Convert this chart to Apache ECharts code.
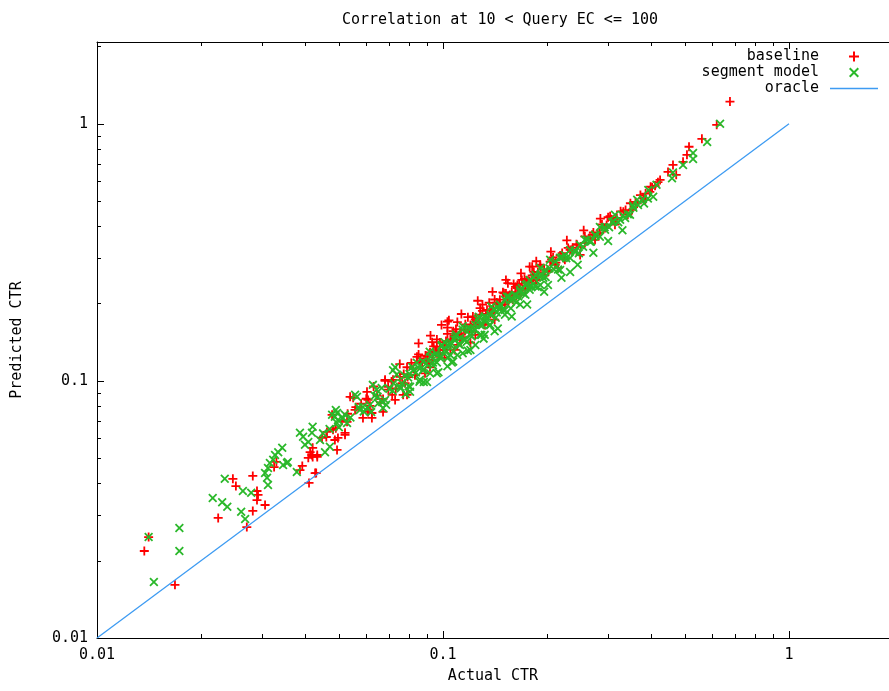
<!DOCTYPE html>
<html>
<head>
<meta charset="utf-8">
<title>Correlation at 10 < Query EC <= 100</title>
<script src="https://cdn.jsdelivr.net/npm/echarts@6/dist/echarts.min.js"></script>
<style>
  html, body { margin: 0; padding: 0; background: #fff; }
  #main { width: 889px; height: 691px; }
</style>
</head>
<body>
<div id="main"></div>
<script>
// values: [actual CTR, predicted CTR]
var baselinePoints = [
  [0.0137,0.0218],[0.0141,0.0247],[0.0168,0.0161],[0.0224,0.0293],[0.0247,0.0416],[0.0252,0.0390],[0.0282,0.0427],[0.0271,0.0270],
  [0.0282,0.0312],[0.0290,0.0373],[0.0292,0.0360],[0.0290,0.0344],[0.0306,0.0329],[0.0410,0.0401],[0.0430,0.0438],
  [0.0330,0.0484],[0.0325,0.0462],[0.0392,0.0467],[0.0386,0.0450],[0.0418,0.0515],[0.0420,0.0549],[0.0433,0.0515],[0.0413,0.0528],
  [0.0420,0.0506],[0.0408,0.0502],[0.0433,0.0506],[0.0427,0.0438],[0.0447,0.0600],[0.0462,0.0633],[0.0481,0.0645],[0.0487,0.0589],
  [0.0497,0.0600],[0.0494,0.0539],[0.0521,0.0628],[0.0478,0.0738],[0.0528,0.0693],[0.0521,0.0617],[0.0539,0.0867],[0.0550,0.0860],
  [0.0557,0.0771],[0.0603,0.0907],[0.0607,0.0757],[0.0587,0.0718],[0.0623,0.0718],[0.0607,0.0843],[0.0680,0.101],[0.0694,0.0948],
  [0.0671,0.0757],[0.0623,0.0750],[0.0713,0.0883],[0.0762,0.0980],[0.0751,0.1037],[0.0767,0.0883],[0.0671,0.0851],[0.0727,0.0843],
  [0.0787,0.113],[0.0841,0.124],[0.0858,0.119],[0.0899,0.124],[0.0917,0.113],[0.0887,0.107],[0.0830,0.1055],[0.0935,0.121],
  [0.096,0.145],[0.096,0.136],[0.096,0.128],[0.0717,0.101],[0.0777,0.098],[0.0787,0.0883],
  [0.103,0.170],[0.103,0.161],[0.107,0.156],[0.101,0.138],[0.105,0.145],[0.108,0.132],[0.112,0.151],[0.116,0.158],[0.120,0.141],
  [0.120,0.165],[0.124,0.173],[0.124,0.151],[0.128,0.181],[0.130,0.198],[0.132,0.165],[0.137,0.189],[0.140,0.192],[0.141,0.173],
  [0.146,0.207],[0.149,0.221],[0.151,0.198],[0.154,0.240],[0.156,0.216],[0.159,0.207],[0.164,0.236],[0.167,0.216],[0.110,0.138],
  [0.114,0.148],[0.098,0.132],[0.101,0.123],[0.0917,0.129],
  [0.169,0.247],[0.173,0.226],[0.178,0.278],[0.181,0.278],[0.185,0.247],[0.191,0.283],[0.197,0.258],[0.204,0.291],[0.208,0.302],
  [0.215,0.275],[0.221,0.314],[0.225,0.296],[0.233,0.323],[0.237,0.329],[0.244,0.338],[0.249,0.309],[0.257,0.344],[0.266,0.360],
  [0.270,0.370],[0.284,0.377],[0.294,0.393],[0.300,0.433],[0.304,0.437],[0.318,0.430],[0.332,0.455],[0.364,0.49],[0.379,0.515],
  [0.396,0.543],[0.402,0.566],[0.418,0.593],[0.424,0.605],[0.447,0.650],[0.462,0.692],[0.472,0.633],[0.494,0.711],[0.507,0.757],
  [0.514,0.814],[0.560,0.874],[0.618,0.991],[0.675,1.22],
  [0.314,0.405],[0.342,0.443],[0.352,0.463],[0.384,0.506],[0.275,0.354],[0.211,0.283],[0.201,0.270],[0.188,0.265],[0.176,0.245],
  [0.162,0.232],
  [0.046,0.0605],[0.049,0.0655],[0.051,0.0700],[0.053,0.0745],[0.056,0.0790],[0.058,0.0815],
  [0.060,0.0852],[0.0615,0.0800],[0.063,0.0951],[0.0645,0.0877],[0.066,0.0825],[0.068,0.1000],[0.0695,0.0924],[0.071,0.0994],
  [0.073,0.0934],[0.075,0.1163],[0.077,0.1063],[0.079,0.1035],[0.081,0.1175],[0.083,0.1054],[0.085,0.1267],[0.087,0.1175],
  [0.089,0.1255],[0.091,0.1174],[0.093,0.1414],[0.095,0.1302],[0.098,0.1411],[0.100,0.132],[0.103,0.1524],[0.105,0.1323],
  [0.108,0.1501],[0.110,0.1694],[0.113,0.1514],[0.116,0.1659],[0.119,0.1547],[0.122,0.1781],[0.125,0.170],[0.128,0.192],
  [0.131,0.1677],[0.134,0.1889],[0.137,0.1822],[0.141,0.2073],[0.144,0.1987],[0.148,0.1924],[0.152,0.2189],[0.156,0.2106],
  [0.160,0.2384],[0.164,0.2296],[0.168,0.2201],[0.172,0.2494],[0.176,0.2411],[0.181,0.2570],[0.186,0.2474],[0.191,0.2789],
  [0.196,0.2705],[0.201,0.2653],[0.206,0.2966],[0.212,0.2883],[0.218,0.3074],[0.224,0.3002],[0.230,0.3289],[0.236,0.3233],
  [0.243,0.3402],[0.250,0.3325],[0.257,0.3649],[0.264,0.3590],[0.272,0.3781],[0.280,0.3752],[0.288,0.4061],[0.297,0.4039],
  [0.306,0.4253],[0.316,0.4266],[0.326,0.4564],[0.337,0.4617],[0.348,0.4907],[0.36,0.4968],[0.372,0.5282],[0.385,0.5352],
  [0.398,0.5691],[0.41,0.574],
  [0.082,0.1115],[0.086,0.1221],[0.090,0.1197],[0.094,0.1363],[0.097,0.1261],[0.102,0.1428],[0.106,0.1431],[0.109,0.1591],
  [0.112,0.1445],[0.115,0.1587],[0.118,0.177],[0.121,0.1621],[0.124,0.1761],[0.127,0.1664],[0.130,0.1872],[0.133,0.1822],
  [0.136,0.2013],[0.139,0.1849],[0.143,0.2016],[0.146,0.1971],[0.150,0.219],[0.154,0.2033],[0.158,0.2212],[0.162,0.2203],
  [0.166,0.239],[0.170,0.2278],[0.174,0.2453],[0.178,0.2439],[0.183,0.2654],[0.188,0.2538],
  [0.085,0.140],[0.092,0.150],[0.099,0.165],[0.104,0.172],[0.113,0.182],[0.126,0.205],[0.139,0.222],[0.152,0.247],
  [0.168,0.262],[0.186,0.292],[0.205,0.318],[0.228,0.352],[0.255,0.385],[0.285,0.428]
];

var segmentPoints = [
  [0.0141,0.0247],[0.0173,0.0268],[0.0173,0.0218],[0.0146,0.0165],[0.0216,0.0350],[0.0230,0.0337],[0.0238,0.0324],[0.0261,0.0310],
  [0.0268,0.0290],[0.0234,0.0416],[0.0264,0.0373],[0.0279,0.0367],[0.0312,0.0394],[0.0310,0.0420],[0.0306,0.0438],[0.0312,0.0458],
  [0.0316,0.0479],[0.0323,0.0493],[0.0327,0.0515],[0.0334,0.0528],[0.0343,0.0549],[0.0356,0.0484],[0.0345,0.0471],[0.0354,0.0479],
  [0.0378,0.0442],[0.0386,0.0628],[0.0394,0.0606],[0.0420,0.0663],[0.0418,0.0628],[0.0408,0.0579],[0.0399,0.0564],[0.0441,0.0589],
  [0.0456,0.0528],[0.0471,0.0554],[0.0494,0.0750],[0.0487,0.0725],[0.0478,0.0738],[0.0497,0.0705],[0.0514,0.0718],[0.0528,0.0686],
  [0.0494,0.0686],[0.0490,0.0771],[0.0557,0.0883],[0.0587,0.0792],[0.0615,0.0807],[0.0627,0.0965],[0.0643,0.0923],[0.0647,0.0867],
  [0.0667,0.0828],[0.0671,0.0785],[0.0727,0.113],[0.0751,0.0948],[0.0793,0.103],[0.0803,0.0948],[0.0803,0.0907],[0.0819,0.110],
  [0.0847,0.113],[0.0875,0.110],[0.0858,0.101],[0.0899,0.0990],[0.0917,0.107],[0.096,0.118],[0.096,0.107],[0.0564,0.0867],
  [0.0717,0.110],[0.0935,0.118],[0.103,0.114],[0.114,0.128],[0.068,0.0843],[0.0575,0.0771],
  [0.101,0.132],[0.105,0.138],[0.105,0.126],[0.108,0.145],[0.112,0.138],[0.116,0.145],[0.120,0.151],[0.120,0.132],[0.124,0.158],
  [0.128,0.165],[0.128,0.151],[0.132,0.173],[0.137,0.181],[0.137,0.165],[0.141,0.189],[0.141,0.156],[0.146,0.198],[0.151,0.207],
  [0.151,0.181],[0.156,0.207],[0.162,0.216],[0.167,0.226],[0.167,0.198],[0.110,0.126],[0.098,0.123],[0.0993,0.138],[0.124,0.138],
  [0.132,0.151],[0.114,0.158],[0.107,0.119],
  [0.173,0.236],[0.178,0.247],[0.185,0.258],[0.191,0.236],[0.197,0.270],[0.201,0.236],[0.204,0.296],[0.211,0.291],[0.218,0.301],
  [0.225,0.309],[0.233,0.265],[0.233,0.323],[0.241,0.317],[0.249,0.338],[0.257,0.354],[0.266,0.348],[0.275,0.370],[0.284,0.397],
  [0.294,0.387],[0.308,0.415],[0.347,0.443],[0.355,0.471],[0.364,0.506],[0.381,0.49],[0.392,0.553],[0.405,0.520],[0.414,0.579],
  [0.459,0.614],[0.462,0.646],[0.494,0.692],[0.528,0.77],[0.528,0.73],[0.580,0.85],[0.632,1.0],
  [0.325,0.423],[0.336,0.430],[0.218,0.270],[0.191,0.275],[0.178,0.226],[0.314,0.443],
  [0.045,0.0625],[0.047,0.0650],[0.050,0.0660],[0.052,0.0740],[0.054,0.0720],[0.057,0.0790],[0.059,0.0760],
  [0.0605,0.0787],[0.062,0.0756],[0.0635,0.0876],[0.065,0.0819],[0.0665,0.0938],[0.0685,0.0808],[0.070,0.0931],[0.0715,0.0915],
  [0.0735,0.1058],[0.0755,0.0936],[0.0775,0.1046],[0.0795,0.0954],[0.0815,0.1133],[0.0835,0.1077],[0.0855,0.0992],[0.0875,0.119],
  [0.0895,0.1172],[0.0915,0.1299],[0.0935,0.115],[0.0955,0.128],[0.0985,0.1251],[0.101,0.1414],[0.1035,0.1232],[0.106,0.1399],
  [0.1085,0.1486],[0.111,0.1388],[0.114,0.163],[0.117,0.1416],[0.120,0.1596],[0.123,0.1587],[0.126,0.1739],[0.129,0.1509],
  [0.132,0.1782],[0.135,0.1755],[0.138,0.1946],[0.142,0.1761],[0.145,0.1914],[0.149,0.1892],[0.153,0.2127],[0.157,0.1915],
  [0.161,0.2157],[0.165,0.2129],[0.169,0.2298],[0.173,0.2163],[0.178,0.2332],[0.183,0.2525],[0.188,0.2312],[0.193,0.2567],
  [0.198,0.2534],[0.203,0.2741],[0.209,0.2717],[0.215,0.2709],[0.221,0.3028],[0.227,0.2996],[0.233,0.3006],[0.240,0.3216],
  [0.247,0.3137],[0.254,0.3327],[0.261,0.355],[0.268,0.3484],[0.276,0.3671],[0.284,0.3635],[0.293,0.3956],[0.302,0.3956],
  [0.311,0.4167],[0.321,0.4141],[0.331,0.4402],[0.342,0.4446],[0.354,0.4814],[0.366,0.4831],[0.378,0.5103],[0.391,0.5122],
  [0.072,0.0979],[0.076,0.098],[0.080,0.1064],[0.084,0.1176],[0.088,0.1109],[0.092,0.1242],[0.096,0.1258],[0.099,0.1366],
  [0.102,0.1295],[0.104,0.1394],[0.107,0.1305],[0.109,0.1515],[0.112,0.1467],[0.115,0.1449],[0.118,0.1605],[0.121,0.1488],
  [0.124,0.1649],[0.127,0.1778],[0.130,0.1651],[0.133,0.1756],[0.136,0.1646],[0.140,0.1904],[0.143,0.1845],[0.147,0.197],
  [0.151,0.1888],[0.155,0.2124],[0.159,0.2067],[0.163,0.2021],[0.167,0.2221],[0.171,0.2189],[0.175,0.238],[0.180,0.234],
  [0.185,0.2331],[0.190,0.2546],[0.195,0.2516],
  [0.078,0.089],[0.088,0.099],[0.097,0.108],[0.106,0.118],[0.118,0.131],[0.131,0.146],[0.144,0.160],[0.158,0.178],
  [0.175,0.198],[0.196,0.222],[0.22,0.252],[0.245,0.283],[0.272,0.315],[0.3,0.35],[0.33,0.385]
];

var oracleLine = [[0.01, 0.01], [1, 1]];

var xMin = 0.01, xMax = 1.945;
var yMin = 0.01, yMax = 2.08;

var FONT = '"DejaVu Sans Mono", "Liberation Mono", monospace';
var plusPath = 'path://M4,0h2v10h-2zM0,4h10v2h-10z';
var crossPath = 'path://M0,1.4L1.4,0L10,8.6L8.6,10ZM8.6,0L10,1.4L1.4,10L0,8.6Z';
var linePath = 'path://M0,0h48v1.3h-48z';

var myChart = echarts.init(document.getElementById('main'));

var axisCommon = {
    type: 'log',
    logBase: 10,
    axisLine: { lineStyle: { color: '#000', width: 1 } },
    axisTick: { inside: true, length: 7, lineStyle: { color: '#000' } },
    splitLine: { show: false },
    axisLabel: { color: '#000', fontFamily: FONT, fontSize: 15, showMaxLabel: false }
};

var option = {
    animation: false,
    backgroundColor: '#fff',
    title: {
        text: 'Correlation at 10 < Query EC <= 100',
        left: 495,
        top: 8,
        textAlign: 'center',
        textStyle: { fontFamily: FONT, fontSize: 15, fontWeight: 'normal', color: '#000' }
    },
    legend: {
        orient: 'vertical',
        align: 'right',
        right: 6,
        top: 44,
        itemWidth: 48,
        itemHeight: 10,
        itemGap: 1,
        data: [
            { name: 'baseline', icon: plusPath },
            { name: 'segment model', icon: crossPath },
            { name: 'oracle', icon: linePath }
        ],
        textStyle: { fontFamily: FONT, fontSize: 15, color: '#000', lineHeight: 15, padding: [0, 6, 0, 0] }
    },
    grid: { left: 97, right: 0, top: 42, bottom: 53 },
    xAxis: [
        echarts.util.merge({
            min: xMin, max: xMax,
            position: 'bottom',
            name: 'Actual CTR',
            nameLocation: 'middle',
            nameGap: 31,
            nameTextStyle: { fontFamily: FONT, fontSize: 15, color: '#000' },
            axisLabel: { margin: 10 }
        }, axisCommon, false),
        echarts.util.merge({
            min: xMin, max: xMax,
            position: 'top',
            axisLabel: { show: false }
        }, axisCommon, false)
    ],
    yAxis: [
        echarts.util.merge({
            min: yMin, max: yMax,
            name: 'Predicted CTR',
            nameLocation: 'middle',
            nameGap: 72,
            nameTextStyle: { fontFamily: FONT, fontSize: 15, color: '#000' },
            axisLabel: { margin: 9 }
        }, axisCommon, false)
    ],
    series: [
        {
            name: 'baseline',
            type: 'scatter',
            symbol: plusPath,
            symbolSize: 9,
            itemStyle: { color: '#ff0000', opacity: 1 },
            data: baselinePoints
        },
        {
            name: 'segment model',
            type: 'scatter',
            symbol: crossPath,
            symbolSize: 9,
            itemStyle: { color: '#2ab82a', opacity: 1 },
            data: segmentPoints
        },
        {
            name: 'oracle',
            type: 'line',
            symbol: 'none',
            lineStyle: { color: '#3d9bf2', width: 1.3 },
            itemStyle: { color: '#3d9bf2' },
            data: oracleLine
        }
    ]
};

myChart.setOption(option);

// gnuplot style minor ticks at 2..9 of each decade
function drawMinorTicks() {
    var els = [];
    var decades = [0.01, 0.1, 1];
    var grid = { x0: 97, y0: 42, y1: 638 };
    var tick = { stroke: '#000', lineWidth: 1 };
    for (var i = 0; i < decades.length; i++) {
        for (var k = 2; k <= 9; k++) {
            var v = decades[i] * k;
            if (v <= xMax) {
                var px = Math.round(myChart.convertToPixel({ xAxisIndex: 0 }, v)) + 0.5;
                els.push({ type: 'line', silent: true, shape: { x1: px, y1: grid.y1, x2: px, y2: grid.y1 - 4 }, style: tick });
                els.push({ type: 'line', silent: true, shape: { x1: px, y1: grid.y0, x2: px, y2: grid.y0 + 4 }, style: tick });
            }
            if (v <= yMax) {
                var py = Math.round(myChart.convertToPixel({ yAxisIndex: 0 }, v)) + 0.5;
                els.push({ type: 'line', silent: true, shape: { x1: grid.x0, y1: py, x2: grid.x0 + 4, y2: py }, style: tick });
            }
        }
    }
    myChart.setOption({ graphic: els });
}
drawMinorTicks();
</script>
</body>
</html>
